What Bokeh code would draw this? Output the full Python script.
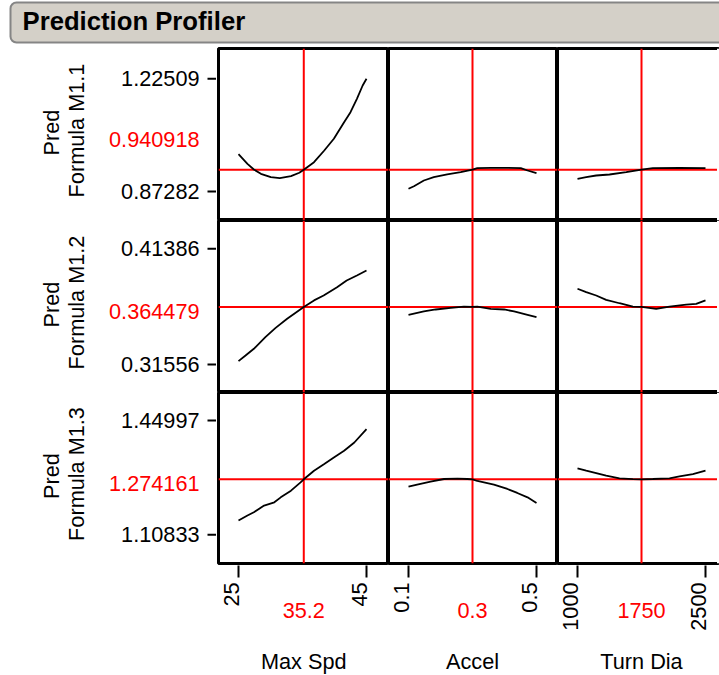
import math
from bokeh.plotting import figure
from bokeh.layouts import gridplot, column
from bokeh.models import Range1d
from bokeh.core.properties import value
from bokeh.embed import file_html
from bokeh.resources import INLINE

# ---------------- data ----------------
title_text = "Prediction Profiler"
factor_names = ["Max Spd", "Accel", "Turn Dia"]
response_line1 = ["Pred", "Pred", "Pred"]
response_line2 = ["Formula M1.1", "Formula M1.2", "Formula M1.3"]

current_x = [35.2, 0.3, 1750]
current_x_labels = ["35.2", "0.3", "1750"]
current_y = [0.940918, 0.364479, 1.274161]
current_y_labels = ["0.940918", "0.364479", "1.274161"]

x_ticks = [[25, 45], [0.1, 0.5], [1000, 2500]]
x_tick_labels = [["25", "45"], ["0.1", "0.5"], ["1000", "2500"]]
y_ticks = [[0.87282, 1.22509], [0.31556, 0.41386], [1.10833, 1.44997]]
y_tick_labels = [["0.87282", "1.22509"], ["0.31556", "0.41386"], ["1.10833", "1.44997"]]

# row 1 : Pred Formula M1.1
m11_maxspd_x = [25, 26.4, 27.4, 28.5, 30.05, 31.45, 33.2, 34.5, 35.2, 36.8, 38.4, 39.9, 41.5, 42.5, 43.5, 44.4, 45]
m11_maxspd_y = [0.9894, 0.9594, 0.9416, 0.9282, 0.9175, 0.9144, 0.9207, 0.9313, 0.9409, 0.9644, 1.0010, 1.0376, 1.0895, 1.1207, 1.1626, 1.2042, 1.2251]
m11_accel_x = [0.1, 0.117, 0.148, 0.179, 0.221, 0.263, 0.3, 0.315, 0.357, 0.409, 0.451, 0.472, 0.5]
m11_accel_y = [0.8813, 0.8894, 0.9072, 0.9175, 0.9260, 0.9331, 0.9409, 0.9457, 0.9469, 0.9469, 0.9457, 0.9385, 0.9301]
m11_turn_x = [1000, 1102, 1219, 1375, 1571, 1750, 1883, 2195, 2500]
m11_turn_y = [0.9125, 0.9175, 0.9228, 0.9260, 0.9331, 0.9409, 0.9457, 0.9469, 0.9457]

# row 2 : Pred Formula M1.2
m12_maxspd_x = [25, 26.1, 27.4, 29.2, 30.8, 32.6, 35.2, 36.8, 38.3, 40.4, 41.9, 43.5, 45]
m12_maxspd_y = [0.3184, 0.3232, 0.3289, 0.3388, 0.3467, 0.3544, 0.3645, 0.3700, 0.3742, 0.3812, 0.3869, 0.3912, 0.3954]
m12_accel_x = [0.1, 0.148, 0.185, 0.232, 0.273, 0.3, 0.315, 0.357, 0.399, 0.430, 0.472, 0.5]
m12_accel_y = [0.3578, 0.3606, 0.3623, 0.3637, 0.3648, 0.3645, 0.3648, 0.3629, 0.3623, 0.3606, 0.3578, 0.3558]
m12_turn_x = [1000, 1102, 1219, 1336, 1492, 1649, 1750, 1922, 2078, 2274, 2391, 2500]
m12_turn_y = [0.3799, 0.3770, 0.3742, 0.3705, 0.3676, 0.3648, 0.3645, 0.3629, 0.3648, 0.3665, 0.3671, 0.3700]

# row 3 : Pred Formula M1.3
m13_maxspd_x = [25, 26.4, 27.4, 29.0, 30.6, 31.6, 33.2, 34.7, 35.2, 36.8, 38.4, 39.9, 41.5, 43.1, 45]
m13_maxspd_y = [1.1509, 1.1658, 1.1757, 1.1956, 1.2055, 1.2203, 1.2403, 1.2650, 1.2742, 1.2999, 1.3198, 1.3395, 1.3595, 1.3842, 1.4241]
m13_accel_x = [0.1, 0.127, 0.169, 0.211, 0.253, 0.284, 0.3, 0.315, 0.367, 0.409, 0.440, 0.472, 0.5]
m13_accel_y = [1.2522, 1.2582, 1.2671, 1.2751, 1.2760, 1.2751, 1.2742, 1.2692, 1.2582, 1.2453, 1.2334, 1.2203, 1.2036]
m13_turn_x = [1000, 1102, 1219, 1336, 1492, 1649, 1750, 1883, 2078, 2195, 2352, 2500]
m13_turn_y = [1.3067, 1.2999, 1.2930, 1.2850, 1.2770, 1.2745, 1.2742, 1.2751, 1.2770, 1.2830, 1.2900, 1.2999]

curves = [
    [(m11_maxspd_x, m11_maxspd_y), (m11_accel_x, m11_accel_y), (m11_turn_x, m11_turn_y)],
    [(m12_maxspd_x, m12_maxspd_y), (m12_accel_x, m12_accel_y), (m12_turn_x, m12_turn_y)],
    [(m13_maxspd_x, m13_maxspd_y), (m13_accel_x, m13_accel_y), (m13_turn_x, m13_turn_y)],
]

# ---------------- layout / style (page pixels) ----------------
FONT = value("Liberation Sans")
FS = "21.7px"
PAGE_W, PAGE_H = 719, 675
HEADER_H = 46
EDGE = 2
SIDE_W = 216
COL_W = [170, 169, 162]
ROW_H = [172, 172, 171]
BOTTOM_H = PAGE_H - HEADER_H - 2 * EDGE - sum(ROW_H)
ROW_TOP = [HEADER_H + EDGE + sum(ROW_H[:r]) for r in range(3)]
BOTTOM_TOP = ROW_TOP[2] + ROW_H[2] + EDGE
X_LO_PX, X_HI_PX = 20, 148
Y_TOP_PX = [30.3, 28.3, 28.0]
Y_BOT_PX = [29.0, 28.0, 28.7]


def x_range_for(c):
    lo, hi = x_ticks[c]
    u = (hi - lo) / (X_HI_PX - X_LO_PX)
    s = lo - X_LO_PX * u
    return Range1d(s, s + COL_W[c] * u)


def y_range_for(r):
    lo, hi = y_ticks[r]
    h = ROW_H[r]
    u = (hi - lo) / (h - Y_TOP_PX[r] - Y_BOT_PX[r])
    s = lo - Y_BOT_PX[r] * u
    return Range1d(s, s + h * u)


def bare(fig):
    fig.grid.grid_line_color = None
    fig.outline_line_color = None
    fig.background_fill_color = "white"
    fig.border_fill_color = "white"
    return fig


x_ranges = [x_range_for(c) for c in range(3)]
y_ranges = [y_range_for(r) for r in range(3)]

# ---------------- header ----------------
header = bare(figure(width=PAGE_W, height=HEADER_H, x_range=Range1d(0, PAGE_W),
                     y_range=Range1d(HEADER_H, 0), output_backend="svg",
                     toolbar_location=None, x_axis_location=None, y_axis_location=None,
                     min_border=0))
header.quad(left=[10], right=[PAGE_W + 20], top=[2], bottom=[42],
            fill_color="#d4d0c8", line_color="#858585", line_width=2, border_radius=6)
header.text(x=[22], y=[20.8], text=[title_text], text_font=FONT, text_font_style="bold",
            text_font_size="25.7px", text_baseline="middle", text_align="left",
            text_color="black")

# ---------------- grid ----------------
grid_rows = []
for r in range(3):
    top, bot = ROW_TOP[r], ROW_TOP[r] + ROW_H[r]
    mid = (top + bot) / 2
    side = bare(figure(frame_width=SIDE_W, frame_height=ROW_H[r],
                       x_range=Range1d(0, SIDE_W), y_range=y_ranges[r],
                       output_backend="svg", toolbar_location=None,
                       x_axis_location=None, y_axis_location=None, min_border=0,
                       min_border_top=EDGE if r == 0 else 0,
                       min_border_bottom=EDGE if r == 2 else 0))
    side.extra_y_ranges = {"px": Range1d(bot, top)}
    side.segment(x0=[207] * 2, x1=[SIDE_W + 2] * 2, y0=y_ticks[r], y1=y_ticks[r],
                 line_color="black", line_width=2)
    side.text(x=[199] * 2, y=y_ticks[r], text=y_tick_labels[r], text_align="right",
              text_baseline="middle", text_font=FONT, text_font_size=FS, text_color="black")
    side.text(x=[199], y=[mid + 5], text=[current_y_labels[r]], y_range_name="px",
              text_align="right", text_baseline="middle", text_font=FONT,
              text_font_size=FS, text_color="red")
    side.text(x=[51], y=[mid - 2], text=[response_line1[r]], y_range_name="px",
              angle=math.pi / 2, text_align="center", text_baseline="middle",
              text_font=FONT, text_font_size=FS, text_color="black")
    side.text(x=[76], y=[mid - 4], text=[response_line2[r]], y_range_name="px",
              angle=math.pi / 2, text_align="center", text_baseline="middle",
              text_font=FONT, text_font_size=FS, text_color="black")
    row_figs = [side]

    for c in range(3):
        xr, yr = x_ranges[c], y_ranges[r]
        p = figure(frame_width=COL_W[c], frame_height=ROW_H[r],
                   x_range=xr, y_range=yr,
                   output_backend="svg", toolbar_location=None,
                   x_axis_location=None, y_axis_location=None, min_border=0,
                   min_border_left=EDGE if c == 0 else 0,
                   min_border_top=EDGE if r == 0 else 0,
                   min_border_bottom=EDGE if r == 2 else 0)
        p.grid.grid_line_color = None
        p.background_fill_color = "white"
        p.border_fill_color = "white"
        p.outline_line_color = "black"
        p.outline_line_width = 3
        # current-setting cross hairs
        p.segment(x0=[current_x[c]], x1=[current_x[c]], y0=[yr.start], y1=[yr.end],
                  line_color="red", line_width=2)
        p.segment(x0=[xr.start], x1=[xr.end], y0=[current_y[r]], y1=[current_y[r]],
                  line_color="red", line_width=2)
        if c == 2:
            # the last column runs off the page edge: mask its right-hand border
            ux = (xr.end - xr.start) / COL_W[c]
            xm = xr.end - ux * 1.25
            p.segment(x0=[xm], x1=[xm], y0=[yr.start], y1=[yr.end],
                      line_color="white", line_width=2.5)
        xs, ys = curves[r][c]
        p.line(xs, ys, line_color="black", line_width=1.8)
        row_figs.append(p)
    grid_rows.append(row_figs)

bottom_row = [None]
for c in range(3):
    b = bare(figure(frame_width=COL_W[c], frame_height=BOTTOM_H,
                    x_range=x_ranges[c], y_range=Range1d(PAGE_H, BOTTOM_TOP),
                    output_backend="svg", toolbar_location=None,
                    x_axis_location=None, y_axis_location=None, min_border=0,
                    min_border_left=EDGE if c == 0 else 0))
    b.segment(x0=x_ticks[c], x1=x_ticks[c], y0=[BOTTOM_TOP - 2] * 2, y1=[577] * 2,
              line_color="black", line_width=2)
    b.text(x=x_ticks[c], y=[582] * 2, text=x_tick_labels[c], angle=math.pi / 2,
           x_offset=-7, text_align="right", text_baseline="middle", text_font=FONT,
           text_font_size=FS, text_color="black")
    b.text(x=[current_x[c]], y=[609.6], text=[current_x_labels[c]], text_align="center",
           text_baseline="middle", text_font=FONT, text_font_size=FS, text_color="red")
    b.text(x=[current_x[c]], y=[661.3], text=[factor_names[c]], text_align="center",
           text_baseline="middle", text_font=FONT, text_font_size=FS, text_color="black")
    bottom_row.append(b)
grid_rows.append(bottom_row)

grid = gridplot(grid_rows, toolbar_location=None)
layout = column(header, grid)

open("out.html", "w").write(file_html(layout, INLINE))
